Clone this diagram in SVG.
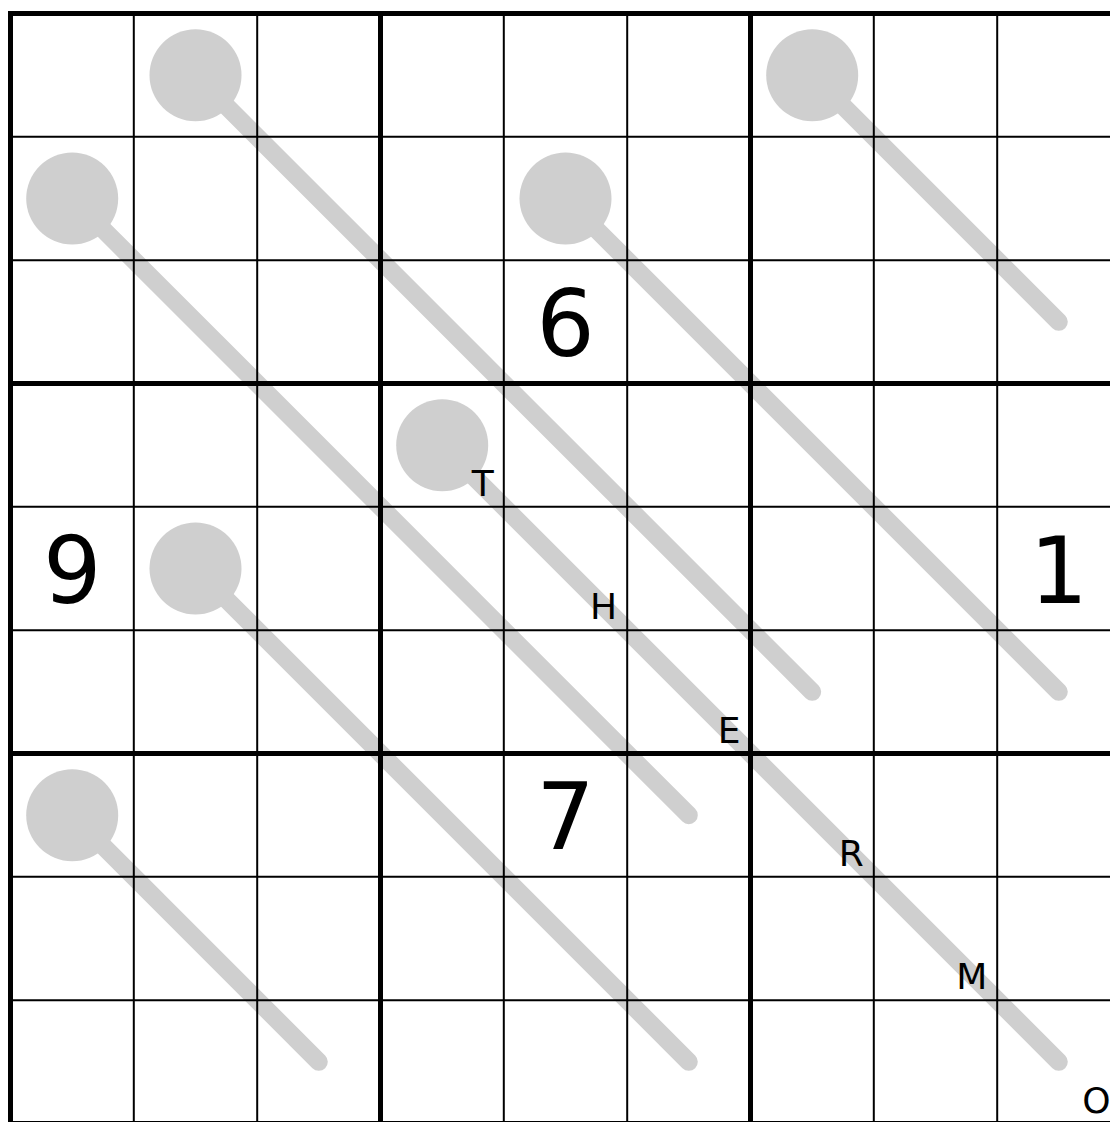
<svg xmlns="http://www.w3.org/2000/svg" width="1110" height="1122" viewBox="0 0 1110 1122">
<style>
.thermo line{stroke:#cfcfcf;stroke-width:18;stroke-linecap:round}
.thermo circle{fill:#cfcfcf}
.thin{stroke:#000;stroke-width:2}
.thick{stroke:#000;stroke-width:5}
.digit{font-family:"DejaVu Sans",Verdana,sans-serif;font-size:92px;fill:#000;text-anchor:middle}
.letter{font-family:"DejaVu Sans",Verdana,sans-serif;font-size:36px;fill:#000;text-anchor:end}
</style>
<rect width="1110" height="1122" fill="#fff"/>
<g id="thermometers">
<g id="thermo1" class="thermo"><line x1="195.5" y1="75.2" x2="812.2" y2="691.8"/><circle cx="195.5" cy="75.2" r="46"/></g>
<g id="thermo2" class="thermo"><line x1="812.2" y1="75.2" x2="1058.8" y2="321.8"/><circle cx="812.2" cy="75.2" r="46"/></g>
<g id="thermo3" class="thermo"><line x1="72.2" y1="198.5" x2="688.8" y2="815.2"/><circle cx="72.2" cy="198.5" r="46"/></g>
<g id="thermo4" class="thermo"><line x1="565.5" y1="198.5" x2="1058.8" y2="691.8"/><circle cx="565.5" cy="198.5" r="46"/></g>
<g id="thermo5" class="thermo"><line x1="442.2" y1="445.2" x2="1058.8" y2="1061.8"/><circle cx="442.2" cy="445.2" r="46"/></g>
<g id="thermo6" class="thermo"><line x1="195.5" y1="568.5" x2="688.8" y2="1061.8"/><circle cx="195.5" cy="568.5" r="46"/></g>
<g id="thermo7" class="thermo"><line x1="72.2" y1="815.2" x2="318.8" y2="1061.8"/><circle cx="72.2" cy="815.2" r="46"/></g>
</g>
<g id="grid">
<g class="thin">
<line x1="133.8" y1="13.5" x2="133.8" y2="1123.5"/>
<line x1="257.2" y1="13.5" x2="257.2" y2="1123.5"/>
<line x1="503.8" y1="13.5" x2="503.8" y2="1123.5"/>
<line x1="627.2" y1="13.5" x2="627.2" y2="1123.5"/>
<line x1="873.8" y1="13.5" x2="873.8" y2="1123.5"/>
<line x1="997.2" y1="13.5" x2="997.2" y2="1123.5"/>
<line x1="10.5" y1="136.8" x2="1120.5" y2="136.8"/>
<line x1="10.5" y1="260.2" x2="1120.5" y2="260.2"/>
<line x1="10.5" y1="506.8" x2="1120.5" y2="506.8"/>
<line x1="10.5" y1="630.2" x2="1120.5" y2="630.2"/>
<line x1="10.5" y1="876.8" x2="1120.5" y2="876.8"/>
<line x1="10.5" y1="1000.2" x2="1120.5" y2="1000.2"/>
</g>
<g class="thick">
<line x1="380.5" y1="13.5" x2="380.5" y2="1123.5"/>
<line x1="750.5" y1="13.5" x2="750.5" y2="1123.5"/>
<line x1="10.5" y1="383.5" x2="1120.5" y2="383.5"/>
<line x1="10.5" y1="753.5" x2="1120.5" y2="753.5"/>
<rect x="10.5" y="13.5" width="1110" height="1110" fill="none"/>
</g>
</g>
<g id="digits">
<text class="digit" x="565.5" y="355.8">6</text>
<text class="digit" x="72.2" y="602.5">9</text>
<text class="digit" x="1058.8" y="602.5">1</text>
<text class="digit" x="565.5" y="849">7</text>
</g>
<g id="letters">
<text class="letter" x="493.8" y="495.8">T</text>
<text class="letter" x="617.2" y="619.2">H</text>
<text class="letter" x="740.5" y="742.5">E</text>
<text class="letter" x="863.8" y="865.8">R</text>
<text class="letter" x="987.2" y="989.2">M</text>
<text class="letter" x="1110.5" y="1112.5">O</text>
</g>
</svg>
